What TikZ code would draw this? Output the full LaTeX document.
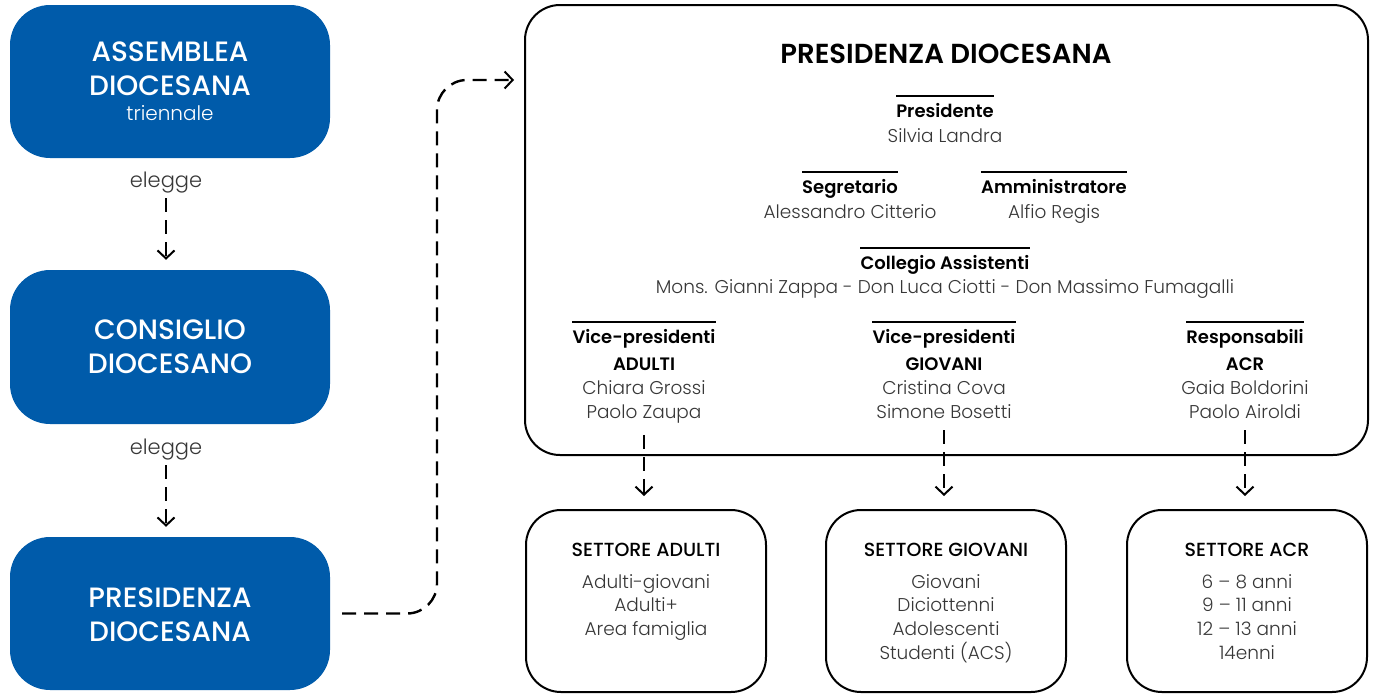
\documentclass[tikz,border=0pt]{standalone}
\usepackage{fontspec}
\setmainfont{Poppins}
\newfontfamily\plight{Poppins Light}
\newfontfamily\pmed{Poppins Medium}
\newfontfamily\psemi{Poppins SemiBold}
\usetikzlibrary{arrows.meta}
\definecolor{acblue}{RGB}{0,91,170}
\definecolor{namegray}{RGB}{55,55,55}
\begin{document}
\begin{tikzpicture}[x=1pt,y=-1pt,
  bluebox/.style={fill=acblue,rounded corners=40pt,minimum width=320pt},
  bluetxt/.style={text=white,anchor=base,inner sep=0pt,font=\pmed\fontsize{28}{32}\selectfont},
  whitebox/.style={draw=black,line width=2pt,rounded corners=35pt},
  dasharrow/.style={draw=black,line width=2.4pt,dash pattern=on 14pt off 8pt,
    -{Straight Barb[length=8pt,width=17pt,line width=2pt]}},
  role/.style={font=\psemi\fontsize{18}{22}\selectfont,anchor=base,inner xsep=0pt,inner ysep=1pt},
  pname/.style={font=\plight\fontsize{18.5}{22}\selectfont,text=namegray,anchor=base,inner sep=1pt},
  elab/.style={font=\plight\fontsize{21}{24}\selectfont,text=namegray,anchor=base,inner sep=1pt},
  stitle/.style={font=\pmed\fontsize{19}{22}\selectfont,anchor=base,inner sep=1pt},
  sitem/.style={font=\plight\fontsize{18.5}{22}\selectfont,text=namegray,anchor=base,inner sep=1pt},
  oline/.style={line width=2pt}
]
\useasboundingbox (0,0) rectangle (1373,694);

% left column
\node[bluebox,minimum height=153pt] (ass) at (170,81.5) {};
\node[bluebox,minimum height=154pt] (cons) at (170,347) {};
\node[bluebox,minimum height=153pt] (pdio) at (170,613.5) {};
\node[bluetxt] (ass1) at (170,61.7) {ASSEMBLEA};
\node[bluetxt] (ass2) at (170,95) {DIOCESANA};
\node[bluetxt,font=\plight\fontsize{20}{24}\selectfont] (ass3) at (170,120.7) {triennale};
\node[bluetxt] (cons1) at (170,339.5) {CONSIGLIO};
\node[bluetxt] (cons2) at (170,373.5) {DIOCESANO};
\node[bluetxt] (pdio1) at (170,607.5) {PRESIDENZA};
\node[bluetxt] (pdio2) at (170,641) {DIOCESANA};
\node[elab] (el1) at (166,187.3) {elegge};
\node[elab] (el2) at (166,454.3) {elegge};
\draw[dasharrow,shorten <=4pt,shorten >=10pt] (el1.south) -- (el1.south |- cons.north);
\draw[dasharrow,shorten <=4pt,shorten >=10pt] (el2.south) -- (el2.south |- pdio.north);

% main presidency box
\node[whitebox,minimum width=843pt,minimum height=450pt] (pres) at (946.5,230) {};
\coordinate (bend) at (437,80);
\draw[dasharrow,rounded corners=30pt,shorten <=12pt,shorten >=10pt] (pdio.east) -| (bend) -- (pres.west |- bend);

\node[font=\psemi\fontsize{27.5}{30}\selectfont,anchor=base,inner sep=0pt] (ptitle) at (946,63) {PRESIDENZA DIOCESANA};

\node[role] (rpres) at (945,117.7) {Presidente};
\node[pname] (npres) at (945,142.7) {Silvia Landra};
\node[role] (rseg) at (850,193.3) {Segretario};
\node[pname] (nseg) at (850,218.3) {Alessandro Citterio};
\node[role] (ramm) at (1054,193.3) {Amministratore};
\node[pname] (namm) at (1054,218.3) {Alfio Regis};
\node[role] (rcol) at (945,269.3) {Collegio Assistenti};
\node[pname] (ncol) at (945,293.3) {Mons. Gianni Zappa - Don Luca Ciotti - Don Massimo Fumagalli};

\node[role] (rva) at (644,343.3) {Vice-presidenti};
\node[role] (rva2) at (644,370) {ADULTI};
\node[pname] (nva) at (644,394) {Chiara Grossi};
\node[pname] (nva2) at (644,418) {Paolo Zaupa};
\node[role] (rvg) at (944,343.3) {Vice-presidenti};
\node[role] (rvg2) at (944,370) {GIOVANI};
\node[pname] (nvg) at (944,394) {Cristina Cova};
\node[pname] (nvg2) at (944,418) {Simone Bosetti};
\node[role] (racr) at (1245,343.3) {Responsabili};
\node[role] (racr2) at (1245,370) {ACR};
\node[pname] (nacr) at (1245,394) {Gaia Boldorini};
\node[pname] (nacr2) at (1245,418) {Paolo Airoldi};

\foreach \r in {rpres,rseg,ramm,rcol,rva,rvg,racr}{
  \draw[oline] ([yshift=21.5pt]\r.base west) -- ([yshift=21.5pt]\r.base east);
}

% sector boxes
\node[whitebox,minimum width=240pt,minimum height=182pt] (sa) at (646,601) {};
\node[whitebox,minimum width=240pt,minimum height=182pt] (sg) at (946,601) {};
\node[whitebox,minimum width=240pt,minimum height=182pt] (sr) at (1247,601) {};

\node[stitle] (tsa) at (646,556.7) {SETTORE ADULTI};
\node[sitem] (isa1) at (646,588) {Adulti-giovani};
\node[sitem] (isa2) at (646,611.7) {Adulti+};
\node[sitem] (isa3) at (646,635.4) {Area famiglia};
\node[stitle] (tsg) at (946,556.7) {SETTORE GIOVANI};
\node[sitem] (isg1) at (946,588) {Giovani};
\node[sitem] (isg2) at (946,611.7) {Diciottenni};
\node[sitem] (isg3) at (946,635.4) {Adolescenti};
\node[sitem] (isg4) at (946,659.1) {Studenti (ACS)};
\node[stitle] (tsr) at (1247,556.7) {SETTORE ACR};
\node[sitem] (isr1) at (1247,588) {6 – 8 anni};
\node[sitem] (isr2) at (1247,611.7) {9 – 11 anni};
\node[sitem] (isr3) at (1247,635.4) {12 – 13 anni};
\node[sitem] (isr4) at (1247,659.1) {14enni};

\draw[dasharrow,shorten <=11pt,shorten >=13pt] (nva2.south) -- (nva2.south |- sa.north);
\draw[dasharrow,shorten <=11pt,shorten >=13pt] (nvg2.south) -- (nvg2.south |- sg.north);
\draw[dasharrow,shorten <=11pt,shorten >=13pt] (nacr2.south) -- (nacr2.south |- sr.north);
\end{tikzpicture}
\end{document}
